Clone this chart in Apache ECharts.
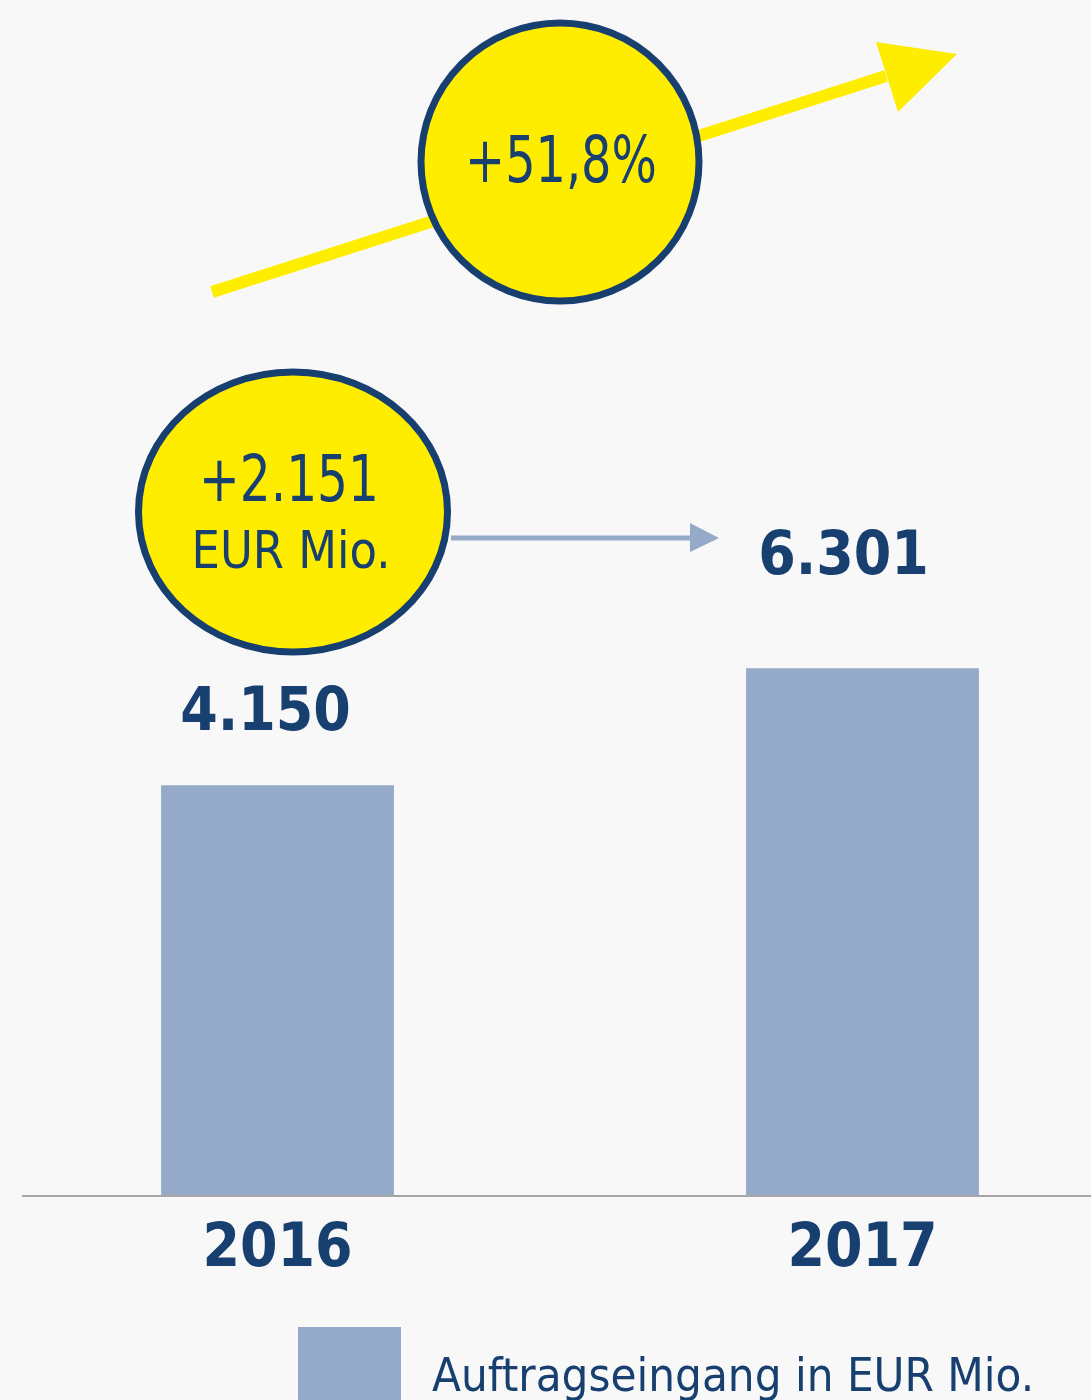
<!DOCTYPE html>
<html>
<head>
<meta charset="utf-8">
<script src="https://cdn.jsdelivr.net/npm/echarts@6/dist/echarts.min.js"></script>
<style>
html, body { margin: 0; padding: 0; background: #f8f8f8; }
#main { width: 1091px; height: 1400px; }
</style>
</head>
<body>
<div id="main"></div>
<script>
// data
var years = ['2016', '2017'];
var orderIntake = [4150, 6301];
var seriesName = 'Auftragseingang in EUR Mio.';

var NAVY = '#173f6f';
var YELLOW = '#ffed00';
var BAR = '#94aac8';
var FONT = '"DejaVu Sans Condensed", "DejaVu Sans", sans-serif';

// the original axis does not start at zero
var Y_MIN = -3400;
var Y_MAX = 10000;

// value label shift from the top centre of each bar (style only)
var labelShift = [[-12, -71], [-19, -110]];

function deNum(n) {
    return String(n).replace(/\B(?=(\d{3})+(?!\d))/g, '.');
}

var diff = orderIntake[1] - orderIntake[0];
var growth = (diff / orderIntake[0] * 100).toFixed(1).replace('.', ',');

var myChart = echarts.init(document.getElementById('main'));
myChart.setOption({
    backgroundColor: '#f8f8f8',
    animation: false,
    grid: { left: -15, right: -64, top: 467, bottom: 204, outerBoundsMode: 'none', containLabel: false },
    legend: {
        left: 298,
        top: 1327,
        padding: 0,
        icon: 'rect',
        itemWidth: 103,
        itemHeight: 103,
        textStyle: {
            color: NAVY,
            fontSize: 47,
            fontFamily: FONT,
            padding: [0, 0, 0, 26]
        },
        data: [seriesName]
    },
    xAxis: {
        type: 'category',
        data: years,
        axisLine: { show: false },
        axisTick: { show: false },
        axisLabel: {
            color: NAVY,
            fontSize: 60,
            fontWeight: 'bold',
            fontFamily: FONT,
            margin: 24
        }
    },
    yAxis: {
        type: 'value',
        min: Y_MIN,
        max: Y_MAX,
        show: false,
        splitLine: { show: false }
    },
    series: [{
        name: seriesName,
        type: 'custom',
        itemStyle: { color: BAR },
        encode: { x: 0, y: 1 },
        data: orderIntake.map(function (v, i) { return [i, v]; }),
        renderItem: function (params, api) {
            var i = api.value(0);
            var v = api.value(1);
            var top = api.coord([i, v]);
            var base = api.coord([i, Y_MIN]);
            var w = api.size([1, 0])[0] * 0.398;
            var sh = labelShift[params.dataIndex];
            return {
                type: 'group',
                children: [{
                    type: 'rect',
                    shape: { x: top[0] - w / 2, y: top[1], width: w, height: base[1] - top[1] },
                    style: { fill: BAR }
                }, {
                    type: 'text',
                    x: top[0] + sh[0],
                    y: top[1] + sh[1],
                    style: {
                        text: deNum(v),
                        fill: NAVY,
                        font: 'bold 60px ' + FONT,
                        align: 'center',
                        verticalAlign: 'middle'
                    }
                }]
            };
        }
    }],
    graphic: [
        // baseline
        { type: 'line', shape: { x1: 22, y1: 1196, x2: 1091, y2: 1196 }, style: { stroke: '#a6a6a6', lineWidth: 2 }, z: 5 },
        // yellow growth arrow
        { type: 'line', shape: { x1: 212, y1: 292, x2: 886, y2: 76 }, style: { stroke: YELLOW, lineWidth: 12 }, z: 1 },
        { type: 'polygon', shape: { points: [[876, 42], [957, 54], [898, 112]] }, style: { fill: YELLOW }, z: 1 },
        { type: 'circle', shape: { cx: 560, cy: 162, r: 139 }, style: { fill: YELLOW, stroke: NAVY, lineWidth: 7 }, z: 2 },
        {
            type: 'text', x: 561, y: 165, scaleX: 0.83, z: 3,
            style: { text: '+' + growth + '%', fill: NAVY, font: '64px ' + FONT, align: 'center', verticalAlign: 'middle' }
        },
        // difference bubble + grey arrow
        { type: 'line', shape: { x1: 451, y1: 538, x2: 692, y2: 538 }, style: { stroke: BAR, lineWidth: 5 }, z: 1 },
        { type: 'polygon', shape: { points: [[690, 523], [719, 538], [690, 552]] }, style: { fill: BAR }, z: 1 },
        { type: 'ellipse', shape: { cx: 293, cy: 512, rx: 154.5, ry: 140 }, style: { fill: YELLOW, stroke: NAVY, lineWidth: 7 }, z: 2 },
        {
            type: 'text', x: 289, y: 484, scaleX: 0.845, z: 3,
            style: { text: '+' + deNum(diff), fill: NAVY, font: '64px ' + FONT, align: 'center', verticalAlign: 'middle' }
        },
        {
            type: 'text', x: 291, y: 554, scaleX: 0.96, z: 3,
            style: { text: 'EUR Mio.', fill: NAVY, font: '52px ' + FONT, align: 'center', verticalAlign: 'middle' }
        }
    ]
});
</script>
</body>
</html>
